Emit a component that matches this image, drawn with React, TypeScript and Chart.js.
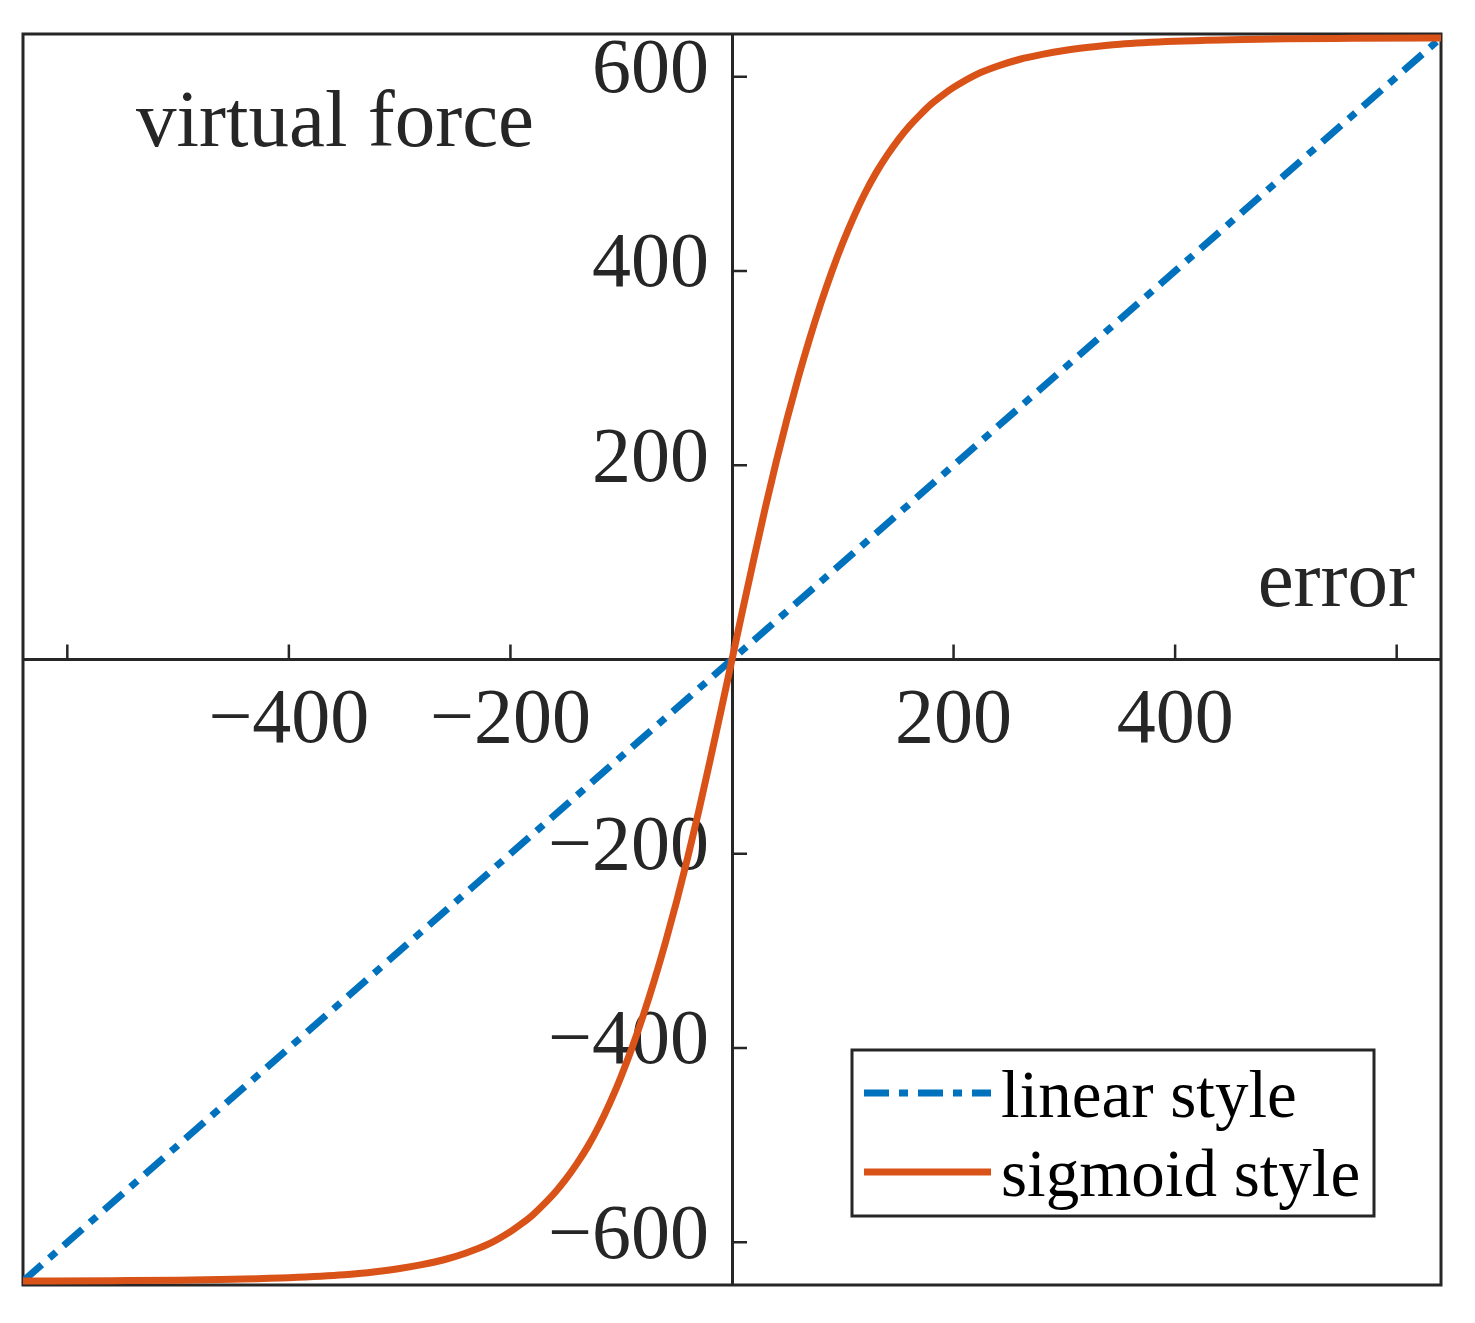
import React, { useEffect, useRef } from 'react';
import { Chart, registerables } from 'chart.js';

Chart.register(...registerables);

// ---- data ----
const X_MIN = -640;
const X_MAX = 640;
const Y_MIN = -644;
const Y_MAX = 644;

const X_TICKS = [-600, -400, -200, 0, 200, 400, 600];
const X_TICK_LABELS = ['', '\u2212400', '\u2212200', '', '200', '400', ''];
const Y_TICKS = [-600, -400, -200, 0, 200, 400, 600];
const Y_TICK_LABELS = ['\u2212600', '\u2212400', '\u2212200', '', '200', '400', '600'];

const SERIES_NAMES = ['linear style', 'sigmoid style'];
const X_AXIS_NAME = 'error';
const Y_AXIS_NAME = 'virtual force';

const LINEAR_X = [-640, 640];
const LINEAR_Y = [-640, 640];

const SIGMOID_X = [
  -640, -560, -500, -450, -400, -350, -320, -300, -280, -260, -240, -220, -200,
  -190, -180, -170, -160, -150, -140, -130, -120, -110, -100, -90, -80, -70,
  -60, -50, -40, -30, -20, -10, 0, 10, 20, 30, 40, 50, 60, 70, 80, 90, 100,
  110, 120, 130, 140, 150, 160, 170, 180, 190, 200, 220, 240, 260, 280, 300,
  320, 350, 400, 450, 500, 560, 640,
];
const SIGMOID_Y = [
  -640, -639.5, -639, -638, -636.5, -633.5, -630, -627, -623, -618, -611, -602, -589,
  -581, -572, -561, -549, -535, -519, -501, -480, -456, -429, -399, -366, -330,
  -291, -249, -204, -156, -105, -53, 0, 53, 105, 156, 204, 249, 291, 330, 366, 399, 429,
  456, 480, 501, 519, 535, 549, 561, 572, 581, 589, 602, 611, 618, 623, 627,
  630, 633.5, 636.5, 638, 639, 639.5, 640,
];

const BLUE = '#0072BD';
const ORANGE = '#D95319';
const AXIS_COLOR = '#262626';
const FONT = '"Liberation Serif", "Times New Roman", serif';
const LINE_W = 7;
const DASH = [25, 10, 9, 10];
const TICK_FONT_SIZE = 78;
const Y_LABEL_GAP = 23;

const zeroPadding = (s: any) => {
  s.paddingLeft = 0;
  s.paddingRight = 0;
  s.paddingTop = 0;
  s.paddingBottom = 0;
};

// Chart.js ignores ticks.padding for y axes placed with an object position,
// so shift the label layer of the y scale to leave the gap to the axis.
const shiftYLabels = (s: any) => {
  if (s.__shifted) return;
  const orig = s.drawLabels;
  s.drawLabels = function (area: any) {
    this.ctx.save();
    this.ctx.translate(-Y_LABEL_GAP, 0);
    orig.call(this, area);
    this.ctx.restore();
  };
  s.__shifted = true;
};

const decorPlugin = {
  id: 'decor',
  beforeDatasetsDraw(chart: any) {
    const { ctx, chartArea: a, scales } = chart;
    const xs = scales.x;
    const ys = scales.y;
    ctx.save();
    ctx.strokeStyle = AXIS_COLOR;
    ctx.lineWidth = 3;
    ctx.strokeRect(a.left, a.top, a.right - a.left, a.bottom - a.top);
    const x0 = xs.getPixelForValue(0);
    const y0 = ys.getPixelForValue(0);
    ctx.lineWidth = 2.5;
    ctx.beginPath();
    for (const t of xs.ticks) {
      const px = xs.getPixelForValue(t.value);
      ctx.moveTo(px, y0);
      ctx.lineTo(px, y0 - 15);
    }
    for (const t of ys.ticks) {
      const py = ys.getPixelForValue(t.value);
      ctx.moveTo(x0, py);
      ctx.lineTo(x0 + 15, py);
    }
    ctx.stroke();
    ctx.restore();
  },
  afterDraw(chart: any) {
    const { ctx, chartArea: a, scales } = chart;
    const y0 = scales.y.getPixelForValue(0);
    ctx.save();
    // axis names
    ctx.fillStyle = AXIS_COLOR;
    ctx.font = `81px ${FONT}`;
    ctx.textBaseline = 'alphabetic';
    ctx.textAlign = 'left';
    ctx.fillText(Y_AXIS_NAME, a.left + 113, a.top + 112);
    ctx.textAlign = 'right';
    ctx.fillText(X_AXIS_NAME, a.right - 26, y0 - 54);

    // legend
    const lw = 522;
    const lh = 166;
    const lx = a.right - 67 - lw;
    const ly = a.bottom - 69 - lh;
    ctx.fillStyle = '#ffffff';
    ctx.fillRect(lx, ly, lw, lh);
    ctx.strokeStyle = AXIS_COLOR;
    ctx.lineWidth = 3;
    ctx.strokeRect(lx, ly, lw, lh);
    const ds = chart.data.datasets;
    const rows = [ly + 43, ly + 122];
    ctx.font = `67px ${FONT}`;
    ctx.textAlign = 'left';
    ds.forEach((d: any, i: number) => {
      ctx.save();
      ctx.strokeStyle = d.borderColor;
      ctx.lineWidth = LINE_W;
      ctx.lineCap = 'butt';
      ctx.setLineDash(d.borderDash || []);
      ctx.beginPath();
      ctx.moveTo(lx + 12, rows[i]);
      ctx.lineTo(lx + 139, rows[i]);
      ctx.stroke();
      ctx.restore();
      ctx.fillStyle = '#000000';
      ctx.fillText(d.label, lx + 149, rows[i] + 24);
    });
    ctx.restore();
  },
};

export default function App() {
  const ref = useRef<HTMLCanvasElement | null>(null);

  useEffect(() => {
    if (!ref.current) return;
    const chart = new Chart(ref.current, {
      type: 'line',
      data: {
        datasets: [
          {
            label: SERIES_NAMES[0],
            data: LINEAR_X.map((x, i) => ({ x, y: LINEAR_Y[i] })),
            borderColor: BLUE,
            borderWidth: LINE_W,
            borderDash: DASH,
            pointRadius: 0,
            fill: false,
            order: 1,
          },
          {
            label: SERIES_NAMES[1],
            data: SIGMOID_X.map((x, i) => ({ x, y: SIGMOID_Y[i] })),
            borderColor: ORANGE,
            borderWidth: LINE_W,
            pointRadius: 0,
            fill: false,
            cubicInterpolationMode: 'monotone',
            order: 0,
          },
        ],
      },
      options: {
        responsive: false,
        animation: false,
        events: [],
        layout: { padding: { left: 23, top: 34, right: 34, bottom: 38 } },
        plugins: { legend: { display: false }, tooltip: { enabled: false } },
        scales: {
          x: {
            type: 'linear',
            min: X_MIN,
            max: X_MAX,
            position: { y: 0 } as any,
            afterBuildTicks: (s: any) => {
              s.ticks = X_TICKS.map((v) => ({ value: v }));
            },
            afterFit: zeroPadding,
            grid: { display: true, drawOnChartArea: false, drawTicks: false },
            border: { display: true, color: AXIS_COLOR, width: 3 },
            ticks: {
              autoSkip: false,
              maxRotation: 0,
              padding: 15,
              color: AXIS_COLOR,
              font: { family: FONT, size: TICK_FONT_SIZE },
              callback: (_v: any, i: number) => X_TICK_LABELS[i],
            },
          },
          y: {
            type: 'linear',
            min: Y_MIN,
            max: Y_MAX,
            position: { x: 0 } as any,
            afterBuildTicks: (s: any) => {
              s.ticks = Y_TICKS.map((v) => ({ value: v }));
            },
            afterFit: zeroPadding,
            afterUpdate: shiftYLabels,
            grid: { display: true, drawOnChartArea: false, drawTicks: false },
            border: { display: true, color: AXIS_COLOR, width: 3 },
            ticks: {
              autoSkip: false,
              padding: 0,
              labelOffset: -5,
              color: AXIS_COLOR,
              font: { family: FONT, size: TICK_FONT_SIZE },
              callback: (_v: any, i: number) => Y_TICK_LABELS[i],
            },
          },
        },
      },
      plugins: [decorPlugin],
    });
    return () => chart.destroy();
  }, []);

  return (
    <div style={{ position: 'absolute', left: 0, top: 0, width: 1475, height: 1323, background: '#fff' }}>
      <canvas ref={ref} width={1475} height={1323} style={{ display: 'block', width: 1475, height: 1323 }} />
    </div>
  );
}
